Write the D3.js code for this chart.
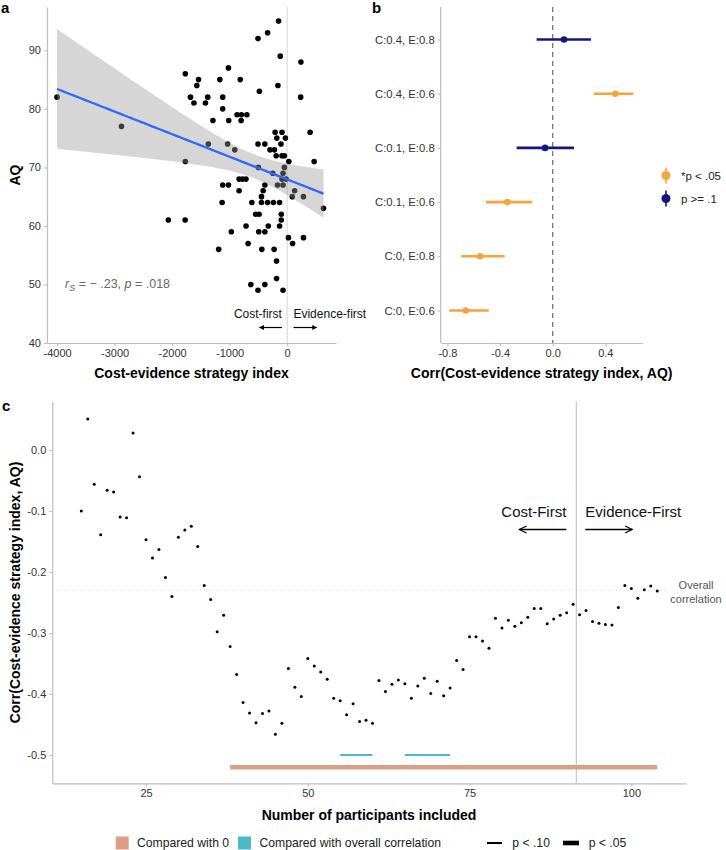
<!DOCTYPE html>
<html><head><meta charset="utf-8">
<script src="https://cdn.jsdelivr.net/npm/d3@7"></script>
<style>
body{margin:0;background:#fff}
text{font-family:"Liberation Sans",Arial,Helvetica,sans-serif}
</style></head>
<body><svg id="chart" width="726" height="850"></svg>
<script>
// ---------- Panel a data ----------
const strategyIndex = [-4000,-2880,-1770,-1770,-1680,-1620,-1570,-1540,-1420,-1380,-1370,-1290,-1170,-1120,-1120,-1020,-1035,-1015,-910,-870,-815,-800,-795,-700,-1120,-1020,-835,-775,-715,-835,-506,-482,-506,-387,-500,-339,-149,-119,-160,-208,-89,-179,-30,-107,-298,-220,-190,-89,-48,30,-48,-71,-250,-89,-18,-387,-167,-71,-417,-446,89,131,240,235,400,470,284,632,-2065,-1773,-1130,-613,-446,-339,-238,-131,-547,-488,-101,-714,-327,-131,-101,-970,-494,-387,23,95,284,-678,-1190,-440,-226,-184,-184,-631,-387,-506,-71];
const aqScores = [82,77,86,71,82,81,84,85,81,82,74,78,85,82,80,87,74,78,73,79,85,78,79,79,67,67,68,68,68,66,92,83,74,74,70,93,95,89,84,76,76,75,75,74,73,73,72,72,72,71,70,69,69,68,68,67,67,67,66,65,65,66,88,82,76,71,65,63,61,61,64,64,64,64,64,64,62,62,62,60,60,60,61,59,59,59,58,57,58,57,56,56,56,54,51,50,50,49,49];
const aqTicks = [40,50,60,70,80,90];
const indexTicks = [-4000,-3000,-2000,-1000,0];

// ---------- Panel b data ----------
const conditions = ["C:0.4, E:0.8","C:0.4, E:0.6","C:0.1, E:0.8","C:0.1, E:0.6","C:0, E:0.8","C:0, E:0.6"];
const corrEstimate = [0.086,0.476,-0.058,-0.345,-0.552,-0.661];
const corrLower = [-0.122,0.314,-0.274,-0.507,-0.694,-0.786];
const corrUpper = [0.291,0.613,0.162,-0.155,-0.365,-0.486];
const corrSignif = ["*p < .05","p >= .1"];
const condSignif = ["p >= .1","*p < .05","p >= .1","*p < .05","*p < .05","*p < .05"];
const corrTicks = [-0.8,-0.4,0.0,0.4];

// ---------- Panel c data ----------
const participantsIncluded = d3.range(15,105);
const runningCorr = [-0.100,0.051,-0.056,-0.139,-0.066,-0.069,-0.110,-0.111,0.028,-0.044,
  -0.147,-0.177,-0.163,-0.209,-0.240,-0.143,-0.131,-0.125,-0.158,-0.222,
  -0.245,-0.298,-0.271,-0.322,-0.368,-0.414,-0.431,-0.447,-0.432,-0.428,
  -0.466,-0.448,-0.358,-0.389,-0.404,-0.342,-0.354,-0.364,-0.376,-0.407,
  -0.411,-0.434,-0.416,-0.445,-0.443,-0.448,-0.378,-0.396,-0.384,-0.377,
  -0.383,-0.407,-0.387,-0.374,-0.399,-0.379,-0.403,-0.390,-0.345,-0.360,
  -0.306,-0.306,-0.313,-0.325,-0.276,-0.292,-0.279,-0.289,-0.283,-0.274,
  -0.260,-0.260,-0.285,-0.277,-0.271,-0.267,-0.253,-0.270,-0.263,-0.281,
  -0.284,-0.286,-0.287,-0.258,-0.222,-0.227,-0.243,-0.229,-0.223,-0.231];
const overallCorr = -0.23;
const splitPoint = 91.5;
const sigSegments = [
  {type:"Compared with 0", p:"p < .05", from:38, to:104, y:-0.52},
  {type:"Compared with overall correlation", p:"p < .10", from:55, to:60, y:-0.50},
  {type:"Compared with overall correlation", p:"p < .10", from:65, to:72, y:-0.50}
];
const nTicks = [25,50,75,100];
const corrTicksC = [0.0,-0.1,-0.2,-0.3,-0.4,-0.5];

// ---------- styles ----------
const AXIS_COL = "#bdbdbd", TICK_TXT = "#333333";
const ORANGE = "#F6A43C", NAVY = "#16167E";
const SALMON = "#DC9F86", TEAL = "#4DBACB";

const svg = d3.select("#chart");

function styleAxis(g, fs){
  g.selectAll(".domain").attr("stroke",AXIS_COL).attr("stroke-width",1.2);
  g.selectAll(".tick line").attr("stroke",AXIS_COL).attr("stroke-width",1.1);
  g.selectAll(".tick text").attr("fill",TICK_TXT).attr("font-size",fs||11).attr("font-family",'"Liberation Sans",Arial,sans-serif');
}
function defsArrow(id, filled){
  const m = svg.append("defs").append("marker").attr("id",id)
    .attr("viewBox","0 0 10 10").attr("refX",9).attr("refY",5)
    .attr("markerWidth",filled?5:9).attr("markerHeight",filled?5:9).attr("orient","auto-start-reverse")
    .attr("markerUnits","userSpaceOnUse");
  if(filled) m.append("path").attr("d","M0,0L10,5L0,10Z").attr("fill","#000");
  else m.append("path").attr("d","M1,1L9,5L1,9").attr("fill","none").attr("stroke","#000").attr("stroke-width",1.3);
}
defsArrow("arrA", true);
defsArrow("arrC", false);

// ================= Panel a =================
{
  const x = d3.scaleLinear().domain([-4175, 850]).range([47, 336]);
  const y = d3.scaleLinear().domain([40, 97.4]).range([343, 7]);
  const g = svg.append("g");
  g.append("line").attr("x1",x(0)).attr("x2",x(0)).attr("y1",y.range()[1]).attr("y2",y.range()[0])
    .attr("stroke","#d4d4d4").attr("stroke-width",1);
  g.selectAll("circle.pt").data(strategyIndex.map((v,i)=>[v,aqScores[i]])).join("circle")
    .attr("cx",d=>x(d[0])).attr("cy",d=>y(d[1])).attr("r",2.8).attr("fill","#000");
  // linear fit with 95% CI
  const n = strategyIndex.length;
  const mx = d3.mean(strategyIndex), my = d3.mean(aqScores);
  let sxx=0, sxy=0;
  strategyIndex.forEach((v,i)=>{sxx+=(v-mx)*(v-mx); sxy+=(v-mx)*(aqScores[i]-my);});
  const b = sxy/sxx, a = my - b*mx;
  let sse=0; strategyIndex.forEach((v,i)=>{const r=aqScores[i]-(a+b*v); sse+=r*r;});
  const s = Math.sqrt(sse/(n-2)), tq = 1.984;
  const xs = d3.range(80).map(i=>d3.min(strategyIndex)+i*(d3.max(strategyIndex)-d3.min(strategyIndex))/79);
  const band = xs.map(v=>{const f=a+b*v, h=tq*s*Math.sqrt(1/n+(v-mx)*(v-mx)/sxx); return {v,f,lo:f-h,hi:f+h};});
  g.append("path").datum(band).attr("d",d3.area().x(d=>x(d.v)).y0(d=>y(d.lo)).y1(d=>y(d.hi)))
    .attr("fill","#999999").attr("fill-opacity",0.4);
  g.append("path").datum(band).attr("d",d3.line().x(d=>x(d.v)).y(d=>y(d.f)))
    .attr("fill","none").attr("stroke","#3366FF").attr("stroke-width",2.3);
  const ax = g.append("g").attr("transform",`translate(0,${y.range()[0]})`)
    .call(d3.axisBottom(x).tickValues(indexTicks).tickSize(3).tickSizeOuter(0).tickPadding(3).tickFormat(d=>String(d)));
  styleAxis(ax);
  const ay = g.append("g").attr("transform",`translate(${x.range()[0]},0)`)
    .call(d3.axisLeft(y).tickValues(aqTicks).tickSize(3).tickSizeOuter(0).tickPadding(3));
  styleAxis(ay);
  const ann = g.append("text").attr("x",65).attr("y",y(50)+4).attr("fill","#666").attr("font-size",12.5);
  ann.append("tspan").attr("font-style","italic").text("r");
  ann.append("tspan").attr("font-style","italic").attr("font-size",9).attr("dy",3).text("S");
  ann.append("tspan").attr("dy",-3).text(" = \u2212 .23, ");
  ann.append("tspan").attr("font-style","italic").text("p");
  ann.append("tspan").text(" = .018");
  g.append("text").attr("x",x(-90)).attr("y",318).attr("text-anchor","end").attr("font-size",12).attr("fill","#111").text("Cost-first");
  g.append("text").attr("x",x(110)).attr("y",318).attr("text-anchor","start").attr("font-size",12).attr("fill","#111").text("Evidence-first");
  g.append("line").attr("x1",x(-90)).attr("x2",x(-480)).attr("y1",327.5).attr("y2",327.5).attr("stroke","#000").attr("stroke-width",1.2).attr("marker-end","url(#arrA)");
  g.append("line").attr("x1",x(110)).attr("x2",x(515)).attr("y1",327.5).attr("y2",327.5).attr("stroke","#000").attr("stroke-width",1.2).attr("marker-end","url(#arrA)");
  g.append("text").attr("x",(x.range()[0]+x.range()[1])/2).attr("y",378).attr("text-anchor","middle")
    .attr("font-weight","bold").attr("font-size",14).text("Cost-evidence strategy index");
  g.append("text").attr("transform",`translate(20,${(y.range()[0]+y.range()[1])/2}) rotate(-90)`).attr("text-anchor","middle")
    .attr("font-weight","bold").attr("font-size",14).text("AQ");
  g.append("text").attr("x",1).attr("y",13).attr("font-weight","bold").attr("font-size",15).text("a");
}

// ================= Panel b =================
{
  const x = d3.scaleLinear().domain([-0.851, 0.684]).range([440.7, 642.7]);
  const y = d3.scalePoint().domain(conditions).range([7, 343]).padding(0.6);
  const col = d3.scaleOrdinal().domain(corrSignif).range([ORANGE, NAVY]);
  const g = svg.append("g");
  g.append("line").attr("x1",x(0)).attr("x2",x(0)).attr("y1",7).attr("y2",343)
    .attr("stroke","#777").attr("stroke-width",1.3).attr("stroke-dasharray","5,4");
  const rows = conditions.map((c,i)=>({c,est:corrEstimate[i],lo:corrLower[i],hi:corrUpper[i],sig:condSignif[i]}));
  g.selectAll("line.ci").data(rows).join("line").attr("x1",d=>x(d.lo)).attr("x2",d=>x(d.hi))
    .attr("y1",d=>y(d.c)).attr("y2",d=>y(d.c)).attr("stroke",d=>col(d.sig)).attr("stroke-width",2.6);
  g.selectAll("circle.est").data(rows).join("circle").attr("cx",d=>x(d.est)).attr("cy",d=>y(d.c))
    .attr("r",3.3).attr("fill",d=>col(d.sig));
  const ax = g.append("g").attr("transform","translate(0,343)")
    .call(d3.axisBottom(x).tickValues(corrTicks).tickSize(3).tickSizeOuter(0).tickPadding(3).tickFormat(d=>d.toFixed(1)));
  styleAxis(ax);
  const ay = g.append("g").attr("transform",`translate(${x.range()[0]},0)`)
    .call(d3.axisLeft(y).tickSize(3).tickSizeOuter(0).tickPadding(3));
  styleAxis(ay, 11.3);
  ay.select(".domain").attr("d",`M-0,7V343`);
  const lg = g.append("g");
  corrSignif.forEach((s,i)=>{
    const cy = 175.5 + i*23;
    lg.append("line").attr("x1",666).attr("x2",666).attr("y1",cy-8).attr("y2",cy+8).attr("stroke",col(s)).attr("stroke-width",1.6);
    lg.append("circle").attr("cx",666).attr("cy",cy).attr("r",4.5).attr("fill",col(s));
    lg.append("text").attr("x",681).attr("y",cy+4).attr("font-size",11.5).attr("fill","#222").text(s);
  });
  g.append("text").attr("x",(x.range()[0]+x.range()[1])/2).attr("y",378).attr("text-anchor","middle")
    .attr("font-weight","bold").attr("font-size",14).text("Corr(Cost-evidence strategy index, AQ)");
  g.append("text").attr("x",372).attr("y",13).attr("font-weight","bold").attr("font-size",15).text("b");
}

// ================= Panel c =================
{
  const x = d3.scaleLinear().domain([10.52, 108.4]).range([52.3, 685.7]);
  const y = d3.scaleLinear().domain([-0.5464, 0.0792]).range([783.3, 401.7]);
  const g = svg.append("g");
  g.append("line").attr("x1",x(x.domain()[0])).attr("x2",x(105.3)).attr("y1",y(overallCorr)).attr("y2",y(overallCorr))
    .attr("stroke","#cfcfcf").attr("stroke-width",1).attr("stroke-dasharray","1,3");
  g.append("line").attr("x1",x(splitPoint)).attr("x2",x(splitPoint)).attr("y1",401.7).attr("y2",783.3)
    .attr("stroke","#c8c8c8").attr("stroke-width",1.2);
  const segCol = d3.scaleOrdinal().domain(["Compared with 0","Compared with overall correlation"]).range([SALMON,TEAL]);
  const segW = d3.scaleOrdinal().domain(["p < .10","p < .05"]).range([2,4.6]);
  g.selectAll("line.seg").data(sigSegments).join("line").attr("x1",d=>x(d.from)).attr("x2",d=>x(d.to))
    .attr("y1",d=>y(d.y)).attr("y2",d=>y(d.y)).attr("stroke",d=>segCol(d.type)).attr("stroke-width",d=>segW(d.p));
  g.selectAll("circle.rc").data(participantsIncluded.map((n,i)=>[n,runningCorr[i]])).join("circle")
    .attr("cx",d=>x(d[0])).attr("cy",d=>y(d[1])).attr("r",1.5).attr("fill","#000");
  const ax = g.append("g").attr("transform","translate(0,783.3)")
    .call(d3.axisBottom(x).tickValues(nTicks).tickSize(3).tickSizeOuter(0).tickPadding(3));
  styleAxis(ax);
  const ay = g.append("g").attr("transform","translate(52.3,0)")
    .call(d3.axisLeft(y).tickValues(corrTicksC).tickSize(3).tickSizeOuter(0).tickPadding(3).tickFormat(d=>d.toFixed(1)));
  styleAxis(ay);
  g.append("text").attr("x",x(splitPoint)-10).attr("y",517).attr("text-anchor","end").attr("font-size",15).attr("fill","#111").text("Cost-First");
  g.append("text").attr("x",x(splitPoint)+9).attr("y",517).attr("text-anchor","start").attr("font-size",15).attr("fill","#111").text("Evidence-First");
  g.append("line").attr("x1",x(splitPoint)-10).attr("x2",x(splitPoint)-57).attr("y1",529.5).attr("y2",529.5).attr("stroke","#000").attr("stroke-width",1.3).attr("marker-end","url(#arrC)");
  g.append("line").attr("x1",x(splitPoint)+9).attr("x2",x(splitPoint)+56).attr("y1",529.5).attr("y2",529.5).attr("stroke","#000").attr("stroke-width",1.3).attr("marker-end","url(#arrC)");
  g.append("text").attr("x",696).attr("y",589).attr("text-anchor","middle").attr("font-size",11).attr("fill","#555").text("Overall");
  g.append("text").attr("x",696).attr("y",603).attr("text-anchor","middle").attr("font-size",11).attr("fill","#555").text("correlation");
  g.append("text").attr("x",(52.3+685.7)/2).attr("y",820).attr("text-anchor","middle")
    .attr("font-weight","bold").attr("font-size",14).text("Number of participants included");
  g.append("text").attr("transform",`translate(20,${(401.7+783.3)/2}) rotate(-90)`).attr("text-anchor","middle")
    .attr("font-weight","bold").attr("font-size",14).text("Corr(Cost-evidence strategy index, AQ)");
  g.append("text").attr("x",2).attr("y",411).attr("font-weight","bold").attr("font-size",15).text("c");
  const lg = g.append("g");
  const ly = 843;
  const legendTypes = ["Compared with 0","Compared with overall correlation"];
  lg.append("rect").attr("x",115.7).attr("y",ly-6.5).attr("width",13).attr("height",13).attr("fill",segCol(legendTypes[0]));
  lg.append("text").attr("x",137).attr("y",ly+4.3).attr("font-size",12.2).attr("fill","#222").text(legendTypes[0]);
  lg.append("rect").attr("x",238).attr("y",ly-6.5).attr("width",13).attr("height",13).attr("fill",segCol(legendTypes[1]));
  lg.append("text").attr("x",259.5).attr("y",ly+4.3).attr("font-size",12.2).attr("fill","#222").text(legendTypes[1]);
  lg.append("line").attr("x1",487).attr("x2",502).attr("y1",ly).attr("y2",ly).attr("stroke","#000").attr("stroke-width",segW("p < .10"));
  lg.append("text").attr("x",512.3).attr("y",ly+4.3).attr("font-size",12.2).attr("fill","#222").text("p < .10");
  lg.append("line").attr("x1",563).attr("x2",579).attr("y1",ly).attr("y2",ly).attr("stroke","#000").attr("stroke-width",segW("p < .05"));
  lg.append("text").attr("x",588.7).attr("y",ly+4.3).attr("font-size",12.2).attr("fill","#222").text("p < .05");
}
</script></body></html>
